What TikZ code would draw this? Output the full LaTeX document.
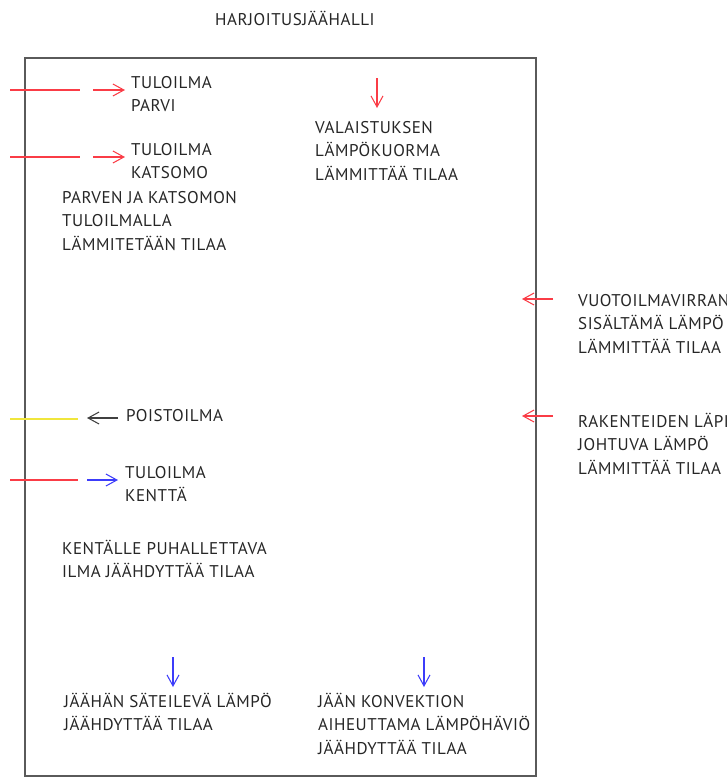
\documentclass[tikz,border=0pt]{standalone}
\usepackage{fontspec}
\setmainfont{PT Sans}[LetterSpace=3]
\usetikzlibrary{arrows.meta}
\definecolor{puna}{RGB}{250,60,70}
\definecolor{sini}{RGB}{60,60,250}
\definecolor{kelta}{RGB}{240,230,60}
\definecolor{reuna}{RGB}{90,90,90}

\begin{document}
\begin{tikzpicture}[x=0.03cm,y=-0.03cm,
  teksti/.style={anchor=north west,inner sep=0pt,align=left,text=black!85,
    font=\fontsize{14.5pt}{20pt}\selectfont},
  nuoli/.style={line width=0.9pt,-{Straight Barb[length=3.3mm,width=3.6mm]}},
  kanava/.style={line width=0.9pt}]
\useasboundingbox (0,0) rectangle (727,778);
% hall outline
\draw[reuna,line width=1.3pt] (25,58) rectangle (536,776);
\node[teksti] (otsikko) at (215,8.5) {\strut HARJOITUSJÄÄHALLI};
% supply air, upper left
\draw[kanava,puna] (10,90) to (80,90);
\draw[nuoli,puna] (93,90) to (125,90);
\node[teksti] (tuloparvi) at (131,71.5) {\strut TULOILMA\\PARVI};
\draw[kanava,puna] (10,157) to (80,157);
\draw[nuoli,puna] (93,157) to (125,157);
\node[teksti] (tulokatsomo) at (131,138.5) {\strut TULOILMA\\KATSOMO};
\node[teksti] (parven) at (62,186.5) {\strut PARVEN JA KATSOMON\\TULOILMALLA\\LÄMMITETÄÄN TILAA};
% lighting
\draw[nuoli,puna] (377,78) to (377,108);
\node[teksti] (valaistus) at (315,116.5) {\strut VALAISTUKSEN\\LÄMPÖKUORMA\\LÄMMITTÄÄ TILAA};
% right side
\draw[nuoli,puna] (553,299) to (522,299);
\node[teksti] (vuoto) at (578,289.5) {\strut VUOTOILMAVIRRAN\\SISÄLTÄMÄ LÄMPÖ\\LÄMMITTÄÄ TILAA};
\draw[nuoli,puna] (553,416) to (522,416);
\node[teksti] (rakenteet) at (578,410.5) {\strut RAKENTEIDEN LÄPI\\JOHTUVA LÄMPÖ\\LÄMMITTÄÄ TILAA};
% exhaust and field supply
\draw[kanava,kelta] (10,419) to (78,419);
\draw[nuoli,black!75] (118,418) to (87,418);
\node[teksti] (poisto) at (126,404.5) {\strut POISTOILMA};
\draw[kanava,puna] (10,480) to (78,480);
\draw[nuoli,sini] (87,480) to (118,480);
\node[teksti] (tulokentta) at (125,461.5) {\strut TULOILMA\\KENTTÄ};
\node[teksti] (kentalle) at (62,537.5) {\strut KENTÄLLE PUHALLETTAVA\\ILMA JÄÄHDYTTÄÄ TILAA};
% ice
\draw[nuoli,sini] (173,657) to (173,687);
\node[teksti] (sateily) at (64,690.5) {\strut JÄÄHÄN SÄTEILEVÄ LÄMPÖ\\JÄÄHDYTTÄÄ TILAA};
\draw[nuoli,sini] (424,657) to (424,687);
\node[teksti] (konvektio) at (318,690.5) {\strut JÄÄN KONVEKTION\\AIHEUTTAMA LÄMPÖHÄVIÖ\\JÄÄHDYTTÄÄ TILAA};
\end{tikzpicture}
\end{document}
